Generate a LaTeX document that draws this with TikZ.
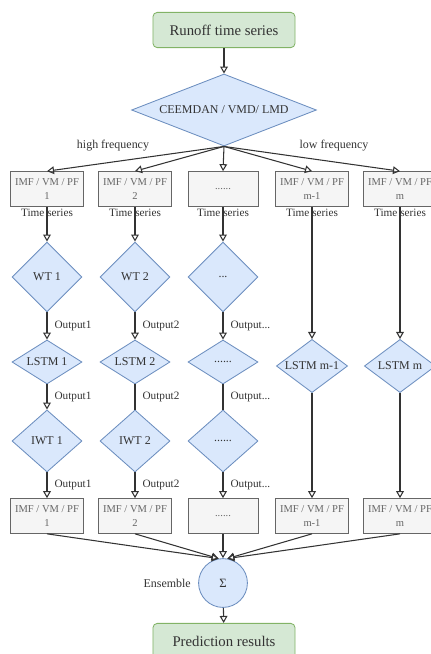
\documentclass[tikz,border=0pt]{standalone}
\usepackage{fontspec}
\setmainfont{Liberation Serif}
\usepackage{tikz}
\usetikzlibrary{arrows.meta,positioning,shapes.geometric}
\definecolor{grnfill}{HTML}{D5E8D4}
\definecolor{grnline}{HTML}{82B366}
\definecolor{bluefill}{HTML}{DAE8FC}
\definecolor{blueline}{HTML}{6C8EBF}
\definecolor{grayfill}{HTML}{F5F5F5}
\definecolor{grayline}{HTML}{666666}
\definecolor{ink}{HTML}{333333}
\newcommand{\imf}[1]{IMF / VM / PF\\#1}

\begin{document}
\begin{tikzpicture}[x=0.025cm,y=-0.025cm,>={Triangle[open,length=5pt,width=5.5pt]},
    every path/.style={line width=0.6pt},
    link/.style={draw=ink,line width=0.75pt},
    endbox/.style={draw=grnline,fill=grnfill,rounded corners=3pt,minimum width=3.55cm,minimum height=0.88cm,align=center,text=ink,font=\fontsize{10.5}{12}\selectfont},
    imfbox/.style={draw=grayline,fill=grayfill,minimum width=1.75cm,minimum height=0.87cm,align=center,text=grayline,font=\fontsize{7.5}{9.5}\selectfont},
    dia/.style={diamond,draw=blueline,fill=bluefill,aspect=1.5,inner sep=0pt,minimum width=1.75cm,text=ink,font=\fontsize{8.5}{10}\selectfont},
    lbl/.style={text=ink,inner sep=1pt,font=\fontsize{8}{9}\selectfont},
    outlbl/.style={lbl,anchor=west,xshift=4pt}]
    \useasboundingbox (0,0) rectangle (431,654);
    \node[endbox] (run) at (224,30) {Runoff time series};
    \node[dia,aspect=2.5,minimum width=4.62cm,minimum height=1.8cm] (dec) at (224,110) {CEEMDAN / VMD/ LMD};
    \node[lbl,font=\fontsize{8.5}{10}\selectfont] at (113,146) {high frequency};
    \node[lbl,font=\fontsize{8.5}{10}\selectfont] at (334,146) {low frequency};
    % decomposed series
    \node[imfbox] (a1) at (47,189) {\imf{1}};
    \node[imfbox] (a2) at (135,189) {\imf{2}};
    \node[imfbox] (a3) at (223,189) {......};
    \node[imfbox] (a4) at (312,189) {\imf{m-1}};
    \node[imfbox] (a5) at (400,189) {\imf{m}};
    \node[dia,minimum height=1.75cm] (wt1) at (47,277) {WT 1};
    \node[dia,minimum height=1.75cm] (wt2) at (135,277) {WT 2};
    \node[dia,minimum height=1.75cm] (wt3) at (223,277) {...};
    \node[dia,minimum height=1.1cm] (ls1) at (47,362) {LSTM 1};
    \node[dia,minimum height=1.1cm] (ls2) at (135,362) {LSTM 2};
    \node[dia,minimum height=1.1cm] (ls3) at (223,362) {......};
    \node[dia,minimum width=1.78cm,minimum height=1.33cm] (ls4) at (312,366) {LSTM m-1};
    \node[dia,minimum width=1.78cm,minimum height=1.33cm] (ls5) at (400,366) {LSTM m};
    \node[dia,minimum height=1.55cm] (iw1) at (47,441) {IWT 1};
    \node[dia,minimum height=1.55cm] (iw2) at (135,441) {IWT 2};
    \node[dia,minimum height=1.55cm] (iw3) at (223,441) {......};
    % reconstructed series
    \node[imfbox] (b1) at (47,516) {\imf{1}};
    \node[imfbox] (b2) at (135,516) {\imf{2}};
    \node[imfbox] (b3) at (223,516) {......};
    \node[imfbox] (b4) at (312,516) {\imf{m-1}};
    \node[imfbox] (b5) at (400,516) {\imf{m}};
    \node[circle,draw=blueline,fill=bluefill,minimum size=1.22cm,inner sep=0pt,text=ink,font=\fontsize{9}{10}\selectfont] (sum) at (223,583) {Σ};
    \node[lbl,font=\fontsize{8.5}{10}\selectfont,left=4pt of sum] (ens) {Ensemble};
    \node[endbox] (res) at (224,641) {Prediction results};

    \draw[->,link] (run) -- (dec);
    \draw[->,link] (dec.south) -- (a1.north);
    \draw[->,link] (dec.south) -- (a2.north);
    \draw[->,link] (dec.south) -- (a3.north);
    \draw[->,link] (dec.south) -- (a4.north);
    \draw[->,link] (dec.south) -- (a5.north);
    \draw[->,link] (a1) -- node[lbl,pos=0.18]{Time series} (wt1);
    \draw[->,link] (a2) -- node[lbl,pos=0.18]{Time series} (wt2);
    \draw[->,link] (a3) -- node[lbl,pos=0.18]{Time series} (wt3);
    \draw[->,link] (a4) -- node[lbl,pos=0.042]{Time series} (ls4);
    \draw[->,link] (a5) -- node[lbl,pos=0.042]{Time series} (ls5);
    \draw[->,link] (wt1) -- node[outlbl]{Output1} (ls1);
    \draw[->,link] (wt2) -- node[outlbl]{Output2} (ls2);
    \draw[->,link] (wt3) -- node[outlbl]{Output...} (ls3);
    \draw[->,link] (ls1) -- node[outlbl]{Output1} (iw1);
    \draw[link] (ls2) -- node[outlbl]{Output2} (iw2);
    \draw[link] (ls3) -- node[outlbl]{Output...} (iw3);
    \draw[->,link] (iw1) -- node[outlbl]{Output1} (b1);
    \draw[->,link] (iw2) -- node[outlbl]{Output2} (b2);
    \draw[->,link] (iw3) -- node[outlbl]{Output...} (b3);
    \draw[->,link] (ls4) -- (b4);
    \draw[->,link] (ls5) -- (b5);
    \draw[->,link] (b1.south) -- (sum.100);
    \draw[->,link] (b2.south) -- (sum.100);
    \draw[->,link] (b3.south) -- (sum.north);
    \draw[->,link] (b4.south) -- (sum.80);
    \draw[->,link] (b5.south) -- (sum.80);
    \draw[->,link] (sum) -- (res);
\end{tikzpicture}
\end{document}
